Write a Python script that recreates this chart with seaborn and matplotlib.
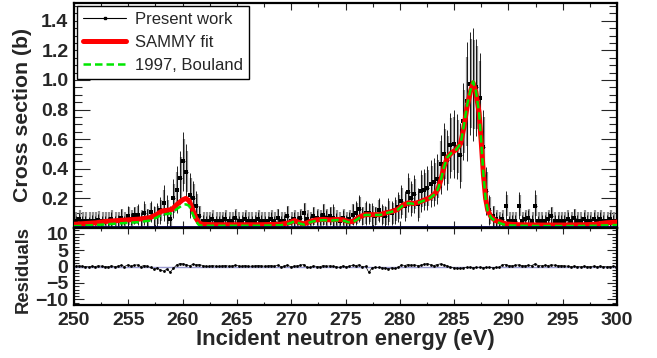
import numpy as np
import pandas as pd
import matplotlib
matplotlib.use("Agg")
import matplotlib.pyplot as plt
from matplotlib.lines import Line2D
from matplotlib.ticker import MultipleLocator, FixedLocator
import seaborn as sns

# ---- measured spectrum (0.3 eV bins) ----
bin_width = 0.3
energy = np.round(250.15 + bin_width * np.arange(167), 2)

xs = [
    0.05, 0.06, 0.05, 0.05, 0.045, 0.05, 0.05, 0.055, 0.05, 0.05,
    0.045, 0.06, 0.05, 0.05, 0.07, 0.05, 0.08, 0.06, 0.085, 0.09,
    0.06, 0.10, 0.07, 0.11, 0.08, 0.09, 0.12, 0.17, 0.11, 0.06,
    0.20, 0.26, 0.34, 0.45, 0.38, 0.22, 0.20, 0.15, 0.08, 0.05,
    0.05, 0.05, 0.06, 0.05, 0.05, 0.05, 0.06, 0.05, 0.05, 0.07,
    0.05, 0.05, 0.06, 0.05, 0.05, 0.05, 0.06, 0.05, 0.05, 0.05,
    0.06, 0.05, 0.07, 0.05, 0.05, 0.08, 0.05, 0.06, 0.05, 0.07,
    0.10, 0.06, 0.05, 0.08, 0.07, 0.06, 0.09, 0.07, 0.08, 0.07,
    0.06, 0.05, 0.07, 0.05, 0.06, 0.09, 0.10, 0.13, 0.08, 0.10,
    0.10, 0.09, 0.08, 0.12, 0.09, 0.08, 0.11, 0.10, 0.12, 0.14,
    0.18, 0.15, 0.24, 0.20, 0.23, 0.16, 0.25, 0.26, 0.27, 0.30,
    0.31, 0.33, 0.43, 0.50, 0.46, 0.56, 0.57, 0.55, 0.49, 0.72,
    0.855, 0.975, 0.97, 0.95, 0.88, 0.55, 0.25, 0.12, 0.08, 0.06,
    0.05, 0.06, 0.15, 0.05, 0.05, 0.05, 0.15, 0.05, 0.06, 0.07,
    0.05, 0.15, 0.05, 0.05, 0.05, 0.06, 0.08, 0.05, 0.05, 0.05,
    0.05, 0.06, 0.05, 0.07, 0.05, 0.05, 0.06, 0.05, 0.05, 0.06,
    0.05, 0.06, 0.05, 0.05, 0.06, 0.05, 0.05,
]

stat_err = [
    0.03, 0.04, 0.03, 0.03, 0.03, 0.04, 0.03, 0.04, 0.03, 0.03,
    0.03, 0.05, 0.03, 0.04, 0.06, 0.03, 0.07, 0.04, 0.06, 0.07,
    0.05, 0.08, 0.06, 0.07, 0.07, 0.08, 0.09, 0.12, 0.11, 0.09,
    0.13, 0.16, 0.18, 0.20, 0.19, 0.15, 0.12, 0.10, 0.07, 0.04,
    0.03, 0.04, 0.04, 0.03, 0.03, 0.04, 0.05, 0.03, 0.03, 0.05,
    0.03, 0.04, 0.05, 0.03, 0.03, 0.04, 0.05, 0.04, 0.03, 0.03,
    0.05, 0.03, 0.06, 0.03, 0.04, 0.07, 0.03, 0.05, 0.03, 0.05,
    0.07, 0.04, 0.03, 0.06, 0.05, 0.04, 0.07, 0.05, 0.06, 0.09,
    0.04, 0.03, 0.05, 0.04, 0.05, 0.07, 0.08, 0.09, 0.06, 0.08,
    0.07, 0.08, 0.06, 0.08, 0.07, 0.07, 0.09, 0.08, 0.09, 0.10,
    0.11, 0.10, 0.13, 0.12, 0.13, 0.11, 0.14, 0.14, 0.15, 0.16,
    0.16, 0.17, 0.20, 0.21, 0.20, 0.22, 0.23, 0.22, 0.22, 0.26,
    0.40, 0.35, 0.38, 0.33, 0.30, 0.25, 0.16, 0.10, 0.07, 0.05,
    0.04, 0.04, 0.10, 0.03, 0.04, 0.04, 0.09, 0.04, 0.05, 0.05,
    0.04, 0.11, 0.03, 0.04, 0.04, 0.05, 0.06, 0.04, 0.04, 0.04,
    0.04, 0.05, 0.04, 0.06, 0.04, 0.03, 0.05, 0.04, 0.04, 0.05,
    0.04, 0.05, 0.04, 0.04, 0.05, 0.04, 0.04,
]

syst_err = [
    0.06, 0.06, 0.06, 0.06, 0.06, 0.06, 0.06, 0.06, 0.06, 0.06,
    0.06, 0.06, 0.06, 0.06, 0.06, 0.06, 0.06, 0.06, 0.06, 0.06,
    0.06, 0.06, 0.06, 0.06, 0.06, 0.06, 0.07, 0.09, 0.08, 0.07,
    0.10, 0.12, 0.14, 0.15, 0.14, 0.12, 0.10, 0.08, 0.07, 0.06,
    0.06, 0.06, 0.06, 0.06, 0.06, 0.06, 0.06, 0.06, 0.06, 0.06,
    0.06, 0.06, 0.06, 0.06, 0.06, 0.06, 0.06, 0.06, 0.06, 0.06,
    0.06, 0.06, 0.06, 0.06, 0.06, 0.07, 0.06, 0.06, 0.06, 0.06,
    0.07, 0.06, 0.06, 0.06, 0.06, 0.06, 0.07, 0.06, 0.06, 0.07,
    0.06, 0.06, 0.06, 0.06, 0.06, 0.07, 0.07, 0.08, 0.06, 0.07,
    0.06, 0.06, 0.06, 0.07, 0.06, 0.06, 0.07, 0.07, 0.07, 0.08,
    0.09, 0.08, 0.10, 0.10, 0.10, 0.09, 0.11, 0.11, 0.12, 0.12,
    0.13, 0.13, 0.16, 0.17, 0.16, 0.18, 0.18, 0.18, 0.18, 0.21,
    0.30, 0.30, 0.30, 0.28, 0.25, 0.20, 0.13, 0.09, 0.07, 0.06,
    0.06, 0.06, 0.07, 0.06, 0.06, 0.06, 0.07, 0.06, 0.06, 0.06,
    0.06, 0.07, 0.06, 0.06, 0.06, 0.06, 0.06, 0.06, 0.06, 0.06,
    0.06, 0.06, 0.06, 0.06, 0.06, 0.06, 0.06, 0.06, 0.06, 0.06,
    0.06, 0.06, 0.06, 0.06, 0.06, 0.06, 0.06,
]

residuals = [
    0.1, 0.2, 0.1, 0.0, -0.1, 0.1, 0.0, 0.2, 0.1, 0.0,
    -0.1, 0.2, 0.0, 0.1, 0.4, 0.0, 0.5, 0.1, 0.4, 0.5,
    0.0, 0.3, 0.1, -0.3, -0.8, -0.5, -1.0, -1.4, -0.8, -1.7,
    -0.6, 0.5, 0.9, 0.8, 0.6, 0.2, 0.7, 0.5, 0.6, 0.3,
    0.1, 0.1, 0.3, 0.1, 0.1, 0.2, 0.3, 0.1, 0.2, 0.4,
    0.2, 0.1, 0.3, 0.1, 0.1, 0.2, 0.3, 0.2, 0.1, 0.2,
    0.3, 0.1, 0.4, 0.0, 0.1, 0.5, -0.1, 0.1, 0.2, 0.4,
    0.6, -0.2, -0.3, 0.2, 0.0, -0.1, 0.3, 0.1, 0.2, 0.1,
    0.0, -0.3, 0.2, -0.1, 0.1, 0.4, 0.3, 0.5, -0.1, 0.1,
    -1.8, -0.4, -0.2, -0.3, -0.4, -0.5, -0.7, -0.4, -0.6, -0.3,
    0.5, 0.3, 0.6, 0.4, 0.5, 0.3, 0.4, 0.7, 0.9, 0.5,
    0.3, 0.6, 0.8, 0.5, 0.2, -0.2, -0.4, -0.5, -0.6, -0.4,
    -0.3, -0.2, -0.4, -0.3, -0.2, -0.4, -0.3, -0.2, -0.4, -0.3,
    -0.2, 0.5, 0.6, 0.3, 0.2, 0.4, 0.5, 0.3, 0.2, 0.4,
    0.3, 0.8, 0.3, 0.2, 0.4, 0.3, 0.5, 0.4, 0.3, 0.3,
    0.2, 0.1, 0.0, 0.1, 0.0, -0.1, 0.1, 0.0, 0.0, 0.1,
    0.0, 0.1, 0.0, -0.1, 0.0, 0.1, 0.0,
]

# ---- SAMMY fit curve ----
fit_energy = [
    250.0, 251.0, 252.0, 253.0, 254.0, 255.0, 256.0, 257.0, 257.6, 258.1,
    258.6, 259.0, 259.5, 260.0, 260.3, 260.6, 260.9, 261.2, 261.5, 261.8,
    263.0, 265.0, 267.0, 269.0, 269.8, 270.3, 270.8, 271.2, 271.8, 272.3,
    273.0, 273.6, 274.3, 274.8, 275.3, 275.7, 276.3, 276.8, 277.5, 278.2,
    278.6, 279.2, 279.8, 280.3, 280.8, 281.3, 281.8, 282.3, 282.8, 283.2,
    283.5, 283.8, 284.1, 284.4, 284.8, 285.2, 285.6, 285.9, 286.2, 286.5,
    286.75, 287.0, 287.3, 287.5, 287.7, 287.9, 288.1, 288.4, 288.8, 289.3,
    289.8, 291.0, 293.0, 295.0, 297.0, 298.0, 299.0, 300.0,
]
fit_xs = [
    0.025, 0.03, 0.035, 0.045, 0.05, 0.055, 0.06, 0.07, 0.09, 0.115,
    0.12, 0.125, 0.16, 0.19, 0.20, 0.185, 0.13, 0.07, 0.035, 0.025,
    0.022, 0.022, 0.022, 0.025, 0.035, 0.05, 0.035, 0.028, 0.045, 0.055,
    0.058, 0.055, 0.058, 0.055, 0.042, 0.045, 0.075, 0.09, 0.09, 0.09,
    0.10, 0.11, 0.125, 0.155, 0.17, 0.165, 0.175, 0.19, 0.205, 0.23,
    0.26, 0.33, 0.42, 0.48, 0.51, 0.53, 0.57, 0.68, 0.82, 0.92,
    0.98, 0.92, 0.78, 0.58, 0.36, 0.20, 0.12, 0.075, 0.05, 0.04,
    0.027, 0.022, 0.02, 0.02, 0.022, 0.025, 0.035, 0.04,
]

# ---- 1997 Bouland evaluation ----
ref_xs = [
    0.012, 0.016, 0.02, 0.025, 0.03, 0.035, 0.04, 0.05, 0.07, 0.09,
    0.095, 0.10, 0.13, 0.155, 0.16, 0.15, 0.10, 0.05, 0.02, 0.015,
    0.015, 0.015, 0.015, 0.018, 0.03, 0.045, 0.03, 0.022, 0.04, 0.05,
    0.053, 0.05, 0.053, 0.05, 0.038, 0.04, 0.07, 0.088, 0.088, 0.088,
    0.098, 0.108, 0.123, 0.153, 0.168, 0.163, 0.173, 0.188, 0.203, 0.228,
    0.26, 0.33, 0.42, 0.48, 0.51, 0.53, 0.57, 0.69, 0.83, 0.93,
    0.99, 0.93, 0.78, 0.58, 0.36, 0.20, 0.115, 0.07, 0.045, 0.03,
    0.018, 0.015, 0.013, 0.013, 0.014, 0.015, 0.018, 0.02,
]

spec = pd.DataFrame({"energy": energy, "xs": xs, "stat": stat_err,
                     "syst": syst_err, "resid": residuals})
curves = pd.DataFrame({"energy": fit_energy, "fit": fit_xs, "ref": ref_xs})

# ---- styling ----
sns.set_style("white")
plt.rcParams["font.family"] = ["Liberation Sans", "DejaVu Sans"]

W, H = 657, 358
fig = plt.figure(figsize=(W / 100, H / 100), dpi=100)
left, right = 74 / W, 617 / W
ax = fig.add_axes([left, 1 - 228 / H, right - left, (228 - 3) / H])
axr = fig.add_axes([left, 1 - 305 / H, right - left, (305 - 228) / H])

# upper pad: cross section
ax.vlines(spec["energy"] + 0.08, spec["xs"] - spec["syst"],
          spec["xs"] + spec["syst"], color="#8f8f8f", lw=1.6, zorder=1)
ax.errorbar(spec["energy"], spec["xs"], yerr=spec["stat"], xerr=bin_width / 2,
            fmt="none", ecolor="black", elinewidth=0.6, capsize=0, zorder=2)
sns.scatterplot(data=spec, x="energy", y="xs", ax=ax, marker="s", s=5,
                color="black", edgecolor="black", linewidth=0, zorder=3,
                legend=False)
sns.lineplot(data=curves, x="energy", y="fit", ax=ax, color="#ff0000",
             lw=3.6, zorder=4, legend=False)
sns.lineplot(data=curves, x="energy", y="ref", ax=ax, color="#00e600",
             lw=1.8, dashes=(3, 1.6), zorder=5, legend=False)
ax.axhline(0.004, color="#000050", lw=2.0, zorder=6)

ax.set_xlim(250, 300)
ax.set_ylim(0.0, 1.52)
ax.yaxis.set_major_locator(FixedLocator([0.2, 0.4, 0.6, 0.8, 1.0, 1.2, 1.4]))
ax.yaxis.set_minor_locator(MultipleLocator(0.05))
ax.xaxis.set_major_locator(MultipleLocator(5))
ax.xaxis.set_minor_locator(MultipleLocator(2.5))
ax.set_xticklabels([])
ax.set_xlabel("")
ax.set_ylabel("")
ax.tick_params(axis="y", which="major", direction="in", length=11.5, width=0.8,
               left=True, right=True, labelsize=14, pad=4)
ax.tick_params(axis="y", which="minor", direction="in", length=5.8, width=0.8,
               left=True, right=True)
ax.tick_params(axis="x", which="major", direction="in", length=5, width=0.8,
               top=True, bottom=True)
ax.tick_params(axis="x", which="minor", direction="in", length=3, width=0.8,
               top=True, bottom=True)
for lab in ax.get_yticklabels():
    lab.set_fontweight("bold")

handles = [
    Line2D([], [], color="black", lw=0.8, marker="s", ms=2),
    Line2D([], [], color="#ff0000", lw=3.6),
    Line2D([], [], color="#00e600", lw=1.8, dashes=(3, 1.6)),
]
leg = ax.legend(handles, ["Present work", "SAMMY fit", "1997, Bouland"],
                loc="upper left", bbox_to_anchor=(0.006, 0.988),
                fontsize=12, frameon=True, fancybox=False, framealpha=1,
                edgecolor="black", handlelength=2.6, handletextpad=0.5,
                labelspacing=0.5, borderpad=0.35, borderaxespad=0)
leg.get_frame().set_linewidth(1.0)

# lower pad: residuals
axr.axhline(0, color="#9a9ad0", lw=1.0, zorder=1)
sns.scatterplot(data=spec, x="energy", y="resid", ax=axr, marker="o", s=4,
                color="black", edgecolor="black", linewidth=0, zorder=3,
                legend=False)
axr.plot(spec["energy"], spec["resid"], color="black", lw=0.5, zorder=2)
axr.set_xlim(250, 300)
axr.set_ylim(-11.7, 11.7)
axr.yaxis.set_major_locator(MultipleLocator(5))
axr.yaxis.set_minor_locator(MultipleLocator(1))
axr.xaxis.set_major_locator(MultipleLocator(5))
axr.xaxis.set_minor_locator(MultipleLocator(2.5))
axr.set_xlabel("")
axr.set_ylabel("")
axr.tick_params(axis="y", which="major", direction="in", length=7, width=0.8,
                left=True, right=True, labelsize=14, pad=4)
axr.tick_params(axis="y", which="minor", direction="in", length=3.5, width=0.8,
                left=True, right=True)
axr.tick_params(axis="x", which="major", direction="in", length=4, width=0.8,
                top=True, bottom=True, labelsize=14, pad=5)
axr.tick_params(axis="x", which="minor", direction="in", length=2, width=0.8,
                top=True, bottom=True)
axr.set_yticks([-10, -5, 0, 5, 10])
axr.set_yticklabels(["\u221210", "\u22125", "0", "5", "10"])
for lab in axr.get_yticklabels() + axr.get_xticklabels():
    lab.set_fontweight("bold")

for a in (ax, axr):
    for sp in a.spines.values():
        sp.set_visible(True)
        sp.set_color("black")
        sp.set_linewidth(1.6)

# axis titles
fig.text(23 / W, 1 - 115 / H, "Cross section (b)", rotation=90,
         ha="center", va="center", fontsize=15.3, fontweight="bold")
fig.text(23 / W, 1 - 269.5 / H, "Residuals", rotation=90,
         ha="center", va="center", fontsize=13.3, fontweight="bold")
fig.text(345.5 / W, 1 - 340 / H, "Incident neutron energy (eV)",
         ha="center", va="center", fontsize=15.8, fontweight="bold")

fig.savefig("out.png", dpi=100)
